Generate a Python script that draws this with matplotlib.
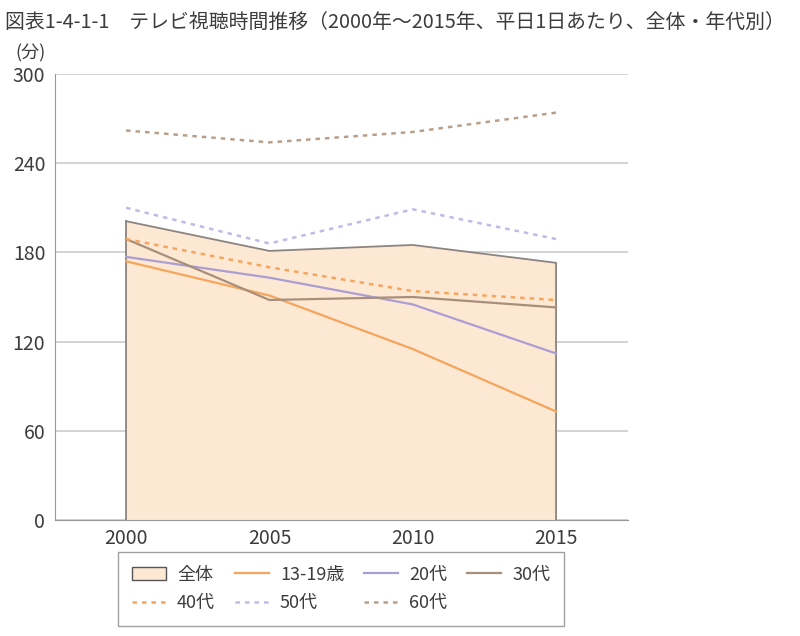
import matplotlib
matplotlib.use('Agg')
import matplotlib.pyplot as plt
from matplotlib.patches import Patch
from matplotlib.lines import Line2D

plt.rcParams['font.family'] = ['Noto Sans CJK JP', 'DejaVu Sans']

# data (minutes per weekday)
years = [2000, 2005, 2010, 2015]
total = [201, 181, 185, 173]
teens = [174, 151, 115, 73]
age20 = [177, 163, 145, 112]
age30 = [189, 148, 150, 143]
age40 = [189, 170, 154, 148]
age50 = [210, 186, 209, 189]
age60 = [262, 254, 261, 274]

title = '図表1-4-1-1　テレビ視聴時間推移（2000年〜2015年、平日1日あたり、全体・年代別）'
yticks = [0, 60, 120, 180, 240, 300]

c_fill = '#fde8d4'
c_edge = '#8c8480'
c_orange = '#f5a55c'
c_purple = '#ab9ed3'
c_brown = '#a88f7b'
c_purple_dot = '#c6b8e6'
c_brown_dot = '#b89f8a'
fg = '#3c3c3c'
dots = (0, (1.8, 2.0))

fig = plt.figure(figsize=(8, 6.36), dpi=100)
ax = fig.add_axes([55/800, 1 - 520/636, (628 - 55)/800, (520 - 74)/636])

ax.fill_between(years, 0, total, facecolor=c_fill, edgecolor='none', zorder=2)
ax.plot(years + [years[-1]], total + [0], color=c_edge, lw=1.3, zorder=3)
ax.plot([years[0], years[0]], [0, total[0]], color=c_edge, lw=1.3, zorder=3)

ax.plot(years, teens, color=c_orange, lw=1.6, zorder=4)
ax.plot(years, age20, color=c_purple, lw=1.6, zorder=4)
ax.plot(years, age30, color=c_brown, lw=1.6, zorder=4)
ax.plot(years, age40, color=c_orange, lw=1.8, ls=dots, zorder=4)
ax.plot(years, age50, color=c_purple_dot, lw=1.8, ls=dots, zorder=4)
ax.plot(years, age60, color=c_brown_dot, lw=1.8, ls=dots, zorder=4)

ax.set_xlim(1997.52, 2017.51)
ax.set_ylim(0, 300)
ax.set_yticks(yticks)
ax.set_xticks(years)
ax.yaxis.grid(True, color='#cccccc', lw=1.2, zorder=1)
ax.set_axisbelow(True)
for s in ['top', 'right']:
    ax.spines[s].set_visible(False)
ax.spines['left'].set_color('#999999')
ax.spines['bottom'].set_color('#999999')
ax.tick_params(axis='both', length=0, labelsize=14, colors=fg, pad=6)
ax.tick_params(axis='y', pad=7)

fig.text(5/800, 1 - 22/636, title, fontsize=14.3, color=fg, va='center', ha='left')
fig.text(15/800, 1 - 53/636, '(分)', fontsize=13, color=fg, va='center', ha='left')

h_total = Patch(facecolor=c_fill, edgecolor='#555555', lw=1.0, label='全体')
h_teens = Line2D([], [], color=c_orange, lw=1.6, label='13-19歳')
h_20 = Line2D([], [], color=c_purple, lw=1.6, label='20代')
h_30 = Line2D([], [], color=c_brown, lw=1.6, label='30代')
h_40 = Line2D([], [], color=c_orange, lw=1.8, ls=dots, label='40代')
h_50 = Line2D([], [], color=c_purple_dot, lw=1.8, ls=dots, label='50代')
h_60 = Line2D([], [], color=c_brown_dot, lw=1.8, ls=dots, label='60代')
# legend fills column by column, so order for row-wise reading
handles = [h_total, h_40, h_teens, h_50, h_20, h_60, h_30]
leg = fig.legend(handles=handles, ncol=4, loc='center', bbox_to_anchor=(341/800, 1 - 589/636),
                 fontsize=13, frameon=True, fancybox=False, edgecolor='#888888',
                 handlelength=1.9, columnspacing=1.1, handletextpad=0.6, borderpad=0.75,
                 labelspacing=0.6)
for t in leg.get_texts():
    t.set_color(fg)

fig.savefig('out.png', dpi=100)
